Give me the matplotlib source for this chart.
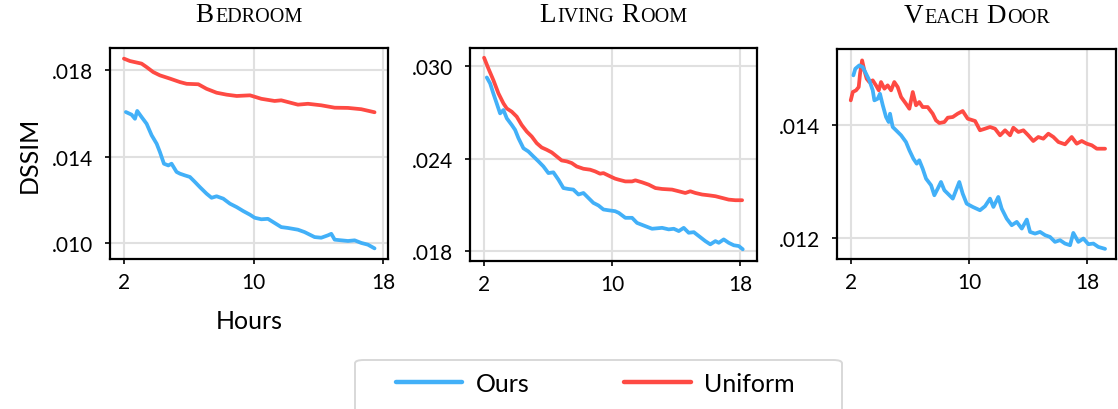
import matplotlib
matplotlib.use("Agg")
import matplotlib.pyplot as plt
from matplotlib.offsetbox import TextArea, HPacker, AnchoredOffsetbox
from matplotlib.patches import FancyBboxPatch

# ---------------- data ----------------
titles = ["Bedroom", "Living Room", "Veach Door"]
series_names = ["Ours", "Uniform"]
x_ticks = [2, 10, 18]
x_tick_labels = ["2", "10", "18"]

# Bedroom
bed_ours_x = [2.12, 2.47, 2.68, 2.82, 3.09, 3.40, 3.71, 4.02, 4.22, 4.47, 4.74, 4.94, 5.25, 5.46,
              5.77, 6.07, 6.38, 6.69, 7.10, 7.41, 7.72, 8.13, 8.54, 8.96, 9.36, 9.78, 10.07, 10.48,
              10.89, 11.30, 11.71, 12.12, 12.74, 13.15, 13.77, 14.18, 14.59, 14.80, 15.01, 15.42,
              15.83, 16.24, 16.65, 17.06, 17.47]
bed_ours_y = [0.01605, 0.01593, 0.01574, 0.01610, 0.01582, 0.01551, 0.01498, 0.01459, 0.01421,
              0.01367, 0.01359, 0.01367, 0.01329, 0.01321, 0.01313, 0.01306, 0.01283, 0.01259,
              0.01229, 0.01210, 0.01217, 0.01206, 0.01183, 0.01167, 0.01149, 0.01132, 0.01118,
              0.01111, 0.01113, 0.01094, 0.01075, 0.01071, 0.01063, 0.01052, 0.01029, 0.01026,
              0.01037, 0.01044, 0.01017, 0.01014, 0.01011, 0.01014, 0.01002, 0.00994, 0.00977]
bed_unif_x = [2.0, 2.37, 3.09, 3.40, 3.81, 4.22, 4.84, 5.46, 5.87, 6.59, 7.10, 7.72, 8.34, 8.96,
              9.78, 10.48, 11.30, 11.71, 12.74, 13.36, 14.18, 15.01, 15.83, 16.65, 17.47]
bed_unif_y = [0.01851, 0.01840, 0.01828, 0.01812, 0.01789, 0.01774, 0.01759, 0.01743, 0.01735,
              0.01733, 0.01712, 0.01694, 0.01685, 0.01679, 0.01682, 0.01666, 0.01656, 0.01659,
              0.01639, 0.01643, 0.01636, 0.01625, 0.01624, 0.01618, 0.01604]

# Living Room
liv_ours_x = [2.17, 2.38, 2.58, 2.79, 3.00, 3.21, 3.42, 3.73, 3.94, 4.15, 4.46, 4.77, 5.08, 5.40,
              5.71, 6.02, 6.33, 6.65, 6.96, 7.27, 7.58, 7.90, 8.21, 8.52, 8.83, 9.15, 9.46, 9.77,
              10.19, 10.42, 10.83, 11.25, 11.56, 12.08, 12.50, 13.13, 13.54, 13.86, 14.17, 14.48,
              14.79, 15.11, 15.42, 15.83, 16.14, 16.46, 16.67, 16.98, 17.29, 17.61, 17.92, 18.17]
liv_ours_y = [0.02927, 0.02888, 0.02823, 0.02759, 0.02694, 0.02716, 0.02662, 0.02619, 0.02587,
              0.02533, 0.02468, 0.02447, 0.02415, 0.02383, 0.02350, 0.02307, 0.02312, 0.02264,
              0.02210, 0.02204, 0.02200, 0.02168, 0.02178, 0.02146, 0.02114, 0.02097, 0.02071,
              0.02066, 0.02060, 0.02049, 0.02017, 0.02017, 0.01984, 0.01963, 0.01946, 0.01952,
              0.01942, 0.01946, 0.01931, 0.01952, 0.01920, 0.01924, 0.01899, 0.01866, 0.01845,
              0.01866, 0.01855, 0.01877, 0.01855, 0.01839, 0.01834, 0.01813]
liv_unif_x = [2.0, 2.27, 2.58, 2.90, 3.21, 3.42, 3.73, 4.04, 4.35, 4.67, 4.98, 5.29, 5.60, 5.92,
              6.23, 6.54, 6.85, 7.17, 7.48, 7.79, 8.21, 8.63, 8.94, 9.25, 9.46, 9.88, 10.19, 10.42,
              10.83, 11.25, 11.46, 11.88, 12.29, 12.71, 13.13, 13.75, 14.17, 14.58, 14.89, 15.21,
              15.63, 16.04, 16.46, 16.88, 17.29, 17.71, 18.13]
liv_unif_y = [0.03055, 0.02985, 0.02910, 0.02823, 0.02759, 0.02726, 0.02705, 0.02673, 0.02619,
              0.02576, 0.02544, 0.02501, 0.02473, 0.02458, 0.02441, 0.02415, 0.02389, 0.02383,
              0.02372, 0.02350, 0.02335, 0.02329, 0.02318, 0.02303, 0.02307, 0.02286, 0.02271,
              0.02264, 0.02253, 0.02253, 0.02260, 0.02247, 0.02232, 0.02210, 0.02204, 0.02200,
              0.02189, 0.02178, 0.02189, 0.02178, 0.02168, 0.02163, 0.02157, 0.02146, 0.02135,
              0.02131, 0.02131]

# Veach Door
vea_ours_x = [2.18, 2.31, 2.58, 2.81, 3.04, 3.26, 3.49, 3.60, 3.83, 3.98, 4.17, 4.39, 4.57, 4.66,
              4.84, 5.07, 5.41, 5.74, 5.97, 6.24, 6.47, 6.64, 6.87, 7.10, 7.44, 7.66, 7.89, 8.11,
              8.34, 8.57, 8.91, 9.13, 9.35, 9.58, 9.85, 10.26, 10.75, 11.09, 11.43, 11.66, 11.99,
              12.22, 12.56, 12.90, 13.24, 13.58, 13.92, 14.14, 14.48, 14.82, 15.16, 15.49, 15.83,
              16.17, 16.51, 16.85, 17.07, 17.41, 17.75, 18.09, 18.43, 18.76, 19.22]
vea_ours_y = [0.014882, 0.014999, 0.015059, 0.015029, 0.014910, 0.014793, 0.014616, 0.014438,
              0.014467, 0.014555, 0.014350, 0.014142, 0.014053, 0.014201, 0.013965, 0.013906,
              0.013817, 0.013698, 0.013551, 0.013402, 0.013313, 0.013374, 0.013225, 0.013047,
              0.012930, 0.012752, 0.012870, 0.012988, 0.012841, 0.012781, 0.012692, 0.012841,
              0.012988, 0.012781, 0.012603, 0.012545, 0.012486, 0.012557, 0.012692, 0.012545,
              0.012722, 0.012515, 0.012337, 0.012220, 0.012279, 0.012160, 0.012320, 0.012101,
              0.012071, 0.012101, 0.012043, 0.012012, 0.011924, 0.011954, 0.011894, 0.011865,
              0.012083, 0.011924, 0.011983, 0.011883, 0.011894, 0.011835, 0.011800]
vea_unif_x = [2.0, 2.14, 2.36, 2.54, 2.63, 2.77, 2.92, 3.08, 3.26, 3.49, 3.71, 3.90, 4.05, 4.28,
              4.50, 4.73, 4.95, 5.18, 5.41, 5.74, 5.97, 6.20, 6.42, 6.64, 6.87, 7.21, 7.55, 7.77,
              8.00, 8.34, 8.57, 8.91, 9.24, 9.58, 9.92, 10.42, 10.75, 11.09, 11.43, 11.77, 12.11,
              12.45, 12.79, 13.01, 13.35, 13.69, 14.02, 14.36, 14.70, 15.04, 15.38, 15.72, 16.06,
              16.51, 16.96, 17.30, 17.64, 17.98, 18.32, 18.66, 18.99, 19.22]
vea_unif_y = [0.014438, 0.014586, 0.014616, 0.014674, 0.014910, 0.015148, 0.014971, 0.014822,
              0.014763, 0.014793, 0.014704, 0.014616, 0.014763, 0.014645, 0.014704, 0.014616,
              0.014763, 0.014674, 0.014497, 0.014378, 0.014289, 0.014586, 0.014350, 0.014408,
              0.014319, 0.014319, 0.014201, 0.014083, 0.014035, 0.014053, 0.014130, 0.014142,
              0.014201, 0.014248, 0.014112, 0.014071, 0.013906, 0.013934, 0.013965, 0.013934,
              0.013817, 0.013906, 0.013817, 0.013952, 0.013876, 0.013906, 0.013817, 0.013716,
              0.013787, 0.013757, 0.013846, 0.013787, 0.013698, 0.013657, 0.013787, 0.013668,
              0.013716, 0.013668, 0.013640, 0.013579, 0.013579, 0.013579]

y_ticks = [[0.010, 0.014, 0.018], [0.018, 0.024, 0.030], [0.012, 0.014]]
y_tick_labels = [[".010", ".014", ".018"], [".018", ".024", ".030"], [".012", ".014"]]
x_limits = [(1.14, 18.3), (1.12, 19.06), (1.07, 19.96)]
y_limits = [(0.00928, 0.0190), (0.01737, 0.03118), (0.01162, 0.01535)]

panels = [
    ((bed_ours_x, bed_ours_y), (bed_unif_x, bed_unif_y)),
    ((liv_ours_x, liv_ours_y), (liv_unif_x, liv_unif_y)),
    ((vea_ours_x, vea_ours_y), (vea_unif_x, vea_unif_y)),
]

# ---------------- style ----------------
BLUE = "#42b0f8"
RED = "#fe4a43"
SANS = ["Lato", "DejaVu Sans"]
SERIF = ["Liberation Serif", "DejaVu Serif"]
plt.rcParams["font.family"] = SANS

W, H = 1118, 410
fig = plt.figure(figsize=(W / 100, H / 100), dpi=100)

boxes = [(110, 388, 49, 260), (470, 757, 49, 262), (837, 1116, 50, 260)]

axes = []
for i, (l, r, t, b) in enumerate(boxes):
    ax = fig.add_axes([l / W, 1 - b / H, (r - l) / W, (b - t) / H])
    axes.append(ax)
    (ox, oy), (ux, uy) = panels[i]
    ax.plot(ux, uy, color=RED, lw=2.7, zorder=3, solid_capstyle="round", solid_joinstyle="round")
    ax.plot(ox, oy, color=BLUE, lw=2.7, zorder=3, solid_capstyle="round", solid_joinstyle="round")
    ax.set_xlim(*x_limits[i])
    ax.set_ylim(*y_limits[i])
    ax.set_xticks(x_ticks)
    ax.set_xticklabels(x_tick_labels)
    ax.set_yticks(y_ticks[i])
    ax.set_yticklabels(y_tick_labels[i])
    ax.grid(True, color="#e0e0e0", lw=1.5, zorder=0)
    ax.set_axisbelow(True)
    for s in ax.spines.values():
        s.set_linewidth(1.6)
        s.set_color("black")
    ax.tick_params(axis="both", length=3.5, width=1.2, labelsize=15, colors="black")
    ax.tick_params(axis="y", pad=8.5)
    ax.tick_params(axis="x", pad=6)

    # small-caps title
    words = titles[i].split(" ")
    parts = []
    for j, w in enumerate(words):
        if j > 0:
            parts.append(TextArea(" ", textprops=dict(fontsize=14, family=SERIF)))
        parts.append(TextArea(w[0].upper(), textprops=dict(fontsize=19.5, family=SERIF)))
        parts.append(TextArea(w[1:].upper(), textprops=dict(fontsize=14.5, family=SERIF)))
    pack = HPacker(children=parts, align="baseline", pad=0, sep=0.8)
    anch = AnchoredOffsetbox(loc="lower center", child=pack, pad=0, frameon=False,
                             borderpad=0)
    anch.set_bbox_to_anchor((0.5, 1.0 + 21 / (b - t)), transform=ax.transAxes)
    ax.add_artist(anch)

axes[0].set_ylabel("DSSIM", fontsize=18, labelpad=8)
axes[0].set_xlabel("Hours", fontsize=18, labelpad=12)

# legend
handles = [plt.Line2D([], [], color=BLUE, lw=3.2, solid_capstyle="round"),
           plt.Line2D([], [], color=RED, lw=3.2, solid_capstyle="round")]
leg = fig.legend(handles, series_names, loc="center left",
                 bbox_to_anchor=(383 / W, 1 - 384 / H), ncol=2, frameon=False,
                 fontsize=18, handlelength=2.65, handletextpad=0.55, columnspacing=3.8,
                 borderpad=0)
frame = FancyBboxPatch((355 / W, 1 - 420 / H), (842 - 355) / W, (420 - 361) / H,
                       boxstyle="round,pad=0,rounding_size=0.008", transform=fig.transFigure,
                       facecolor="white", edgecolor="#d8d8d8", lw=1.4, zorder=0)
fig.patches.append(frame)

fig.savefig("out.png", dpi=100)
